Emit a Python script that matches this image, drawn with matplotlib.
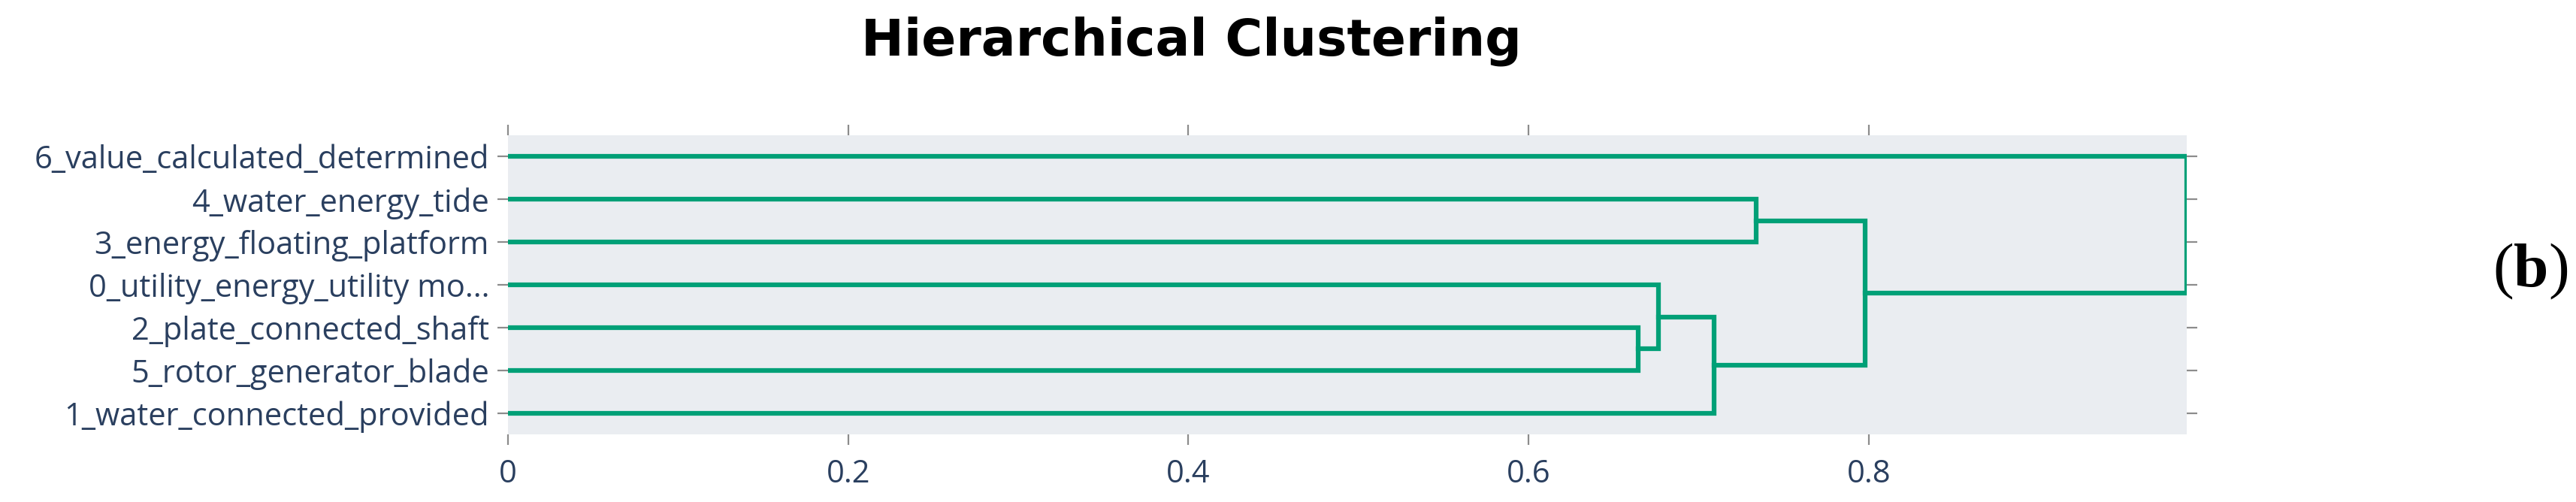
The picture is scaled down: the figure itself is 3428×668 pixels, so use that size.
import numpy as np
import matplotlib
matplotlib.use("Agg")
import matplotlib.pyplot as plt

# leaves, bottom to top as drawn
leaf_labels = ['1_water_connected_provided', '5_rotor_generator_blade',
               '2_plate_connected_shaft', '0_utility_energy_utility mo...',
               '3_energy_floating_platform', '4_water_energy_tide',
               '6_value_calculated_determined']
n_leaves = len(leaf_labels)

# merges: (lower child, upper child, distance); ids >= n_leaves are clusters
merge_left = [1, 7, 0, 4, 9, 11]
merge_right = [2, 3, 8, 5, 10, 6]
merge_height = [0.6646, 0.6766, 0.7093, 0.734, 0.7977, 0.987]

xticks = [0, 0.2, 0.4, 0.6, 0.8]
xtick_labels = ['0', '0.2', '0.4', '0.6', '0.8']

line_color = '#00A077'
bg_color = '#EAEDF1'
label_color = '#2a3f5f'
tick_color = '#8c8c8c'

fig = plt.figure(figsize=(34.28, 6.68), dpi=100)
ax = fig.add_axes([676/3428, 90/668, (2910-676)/3428, (578-180)/668])
ax.set_facecolor(bg_color)

# leaf positions 5, 15, 25...
pos_y = {i: 5 + 10*i for i in range(n_leaves)}
pos_x = {i: 0.0 for i in range(n_leaves)}

for k in range(len(merge_height)):
    a, b, h = merge_left[k], merge_right[k], merge_height[k]
    xs = [pos_x[a], h, h, pos_x[b]]
    ys = [pos_y[a], pos_y[a], pos_y[b], pos_y[b]]
    ax.plot(xs, ys, color=line_color, lw=4.5, solid_joinstyle='miter')
    nid = n_leaves + k
    pos_y[nid] = (pos_y[a] + pos_y[b]) / 2
    pos_x[nid] = h

ax.set_xlim(0, merge_height[-1])
ax.set_ylim(0, 10*n_leaves)

ax.set_xticks(xticks)
ax.set_xticklabels(xtick_labels)
ax.set_yticks([5 + 10*i for i in range(n_leaves)])
ax.set_yticklabels(leaf_labels)

for s in ax.spines.values():
    s.set_visible(False)

ax.tick_params(axis='both', which='both', direction='out', length=10, width=1.6,
               color=tick_color, labelcolor=label_color, labelsize=30,
               top=True, right=True, labeltop=False, labelright=False)
ax.tick_params(axis='x', pad=13)
ax.tick_params(axis='y', pad=8)
for t in ax.get_xticklabels() + ax.get_yticklabels():
    t.set_fontfamily('Open Sans')

fig.text(1585/3428, (668-74)/668, 'Hierarchical Clustering', ha='center',
         va='baseline', fontsize=49, fontweight='bold', family='DejaVu Sans',
         color='black')

# panel label "(b)": regular parentheses, bold b
r = fig.canvas.get_renderer()
x0 = 3317 / 3428
yb = (668 - 381) / 668
for part, wt in [('(', 'normal'), ('b', 'bold'), (')', 'normal')]:
    t = fig.text(x0, yb, part, ha='left', va='baseline', fontsize=60,
                 fontweight=wt, family='Liberation Serif', color='black')
    bb = t.get_window_extent(renderer=r)
    x0 += bb.width / fig.bbox.width

fig.savefig('out.png', dpi=100)
